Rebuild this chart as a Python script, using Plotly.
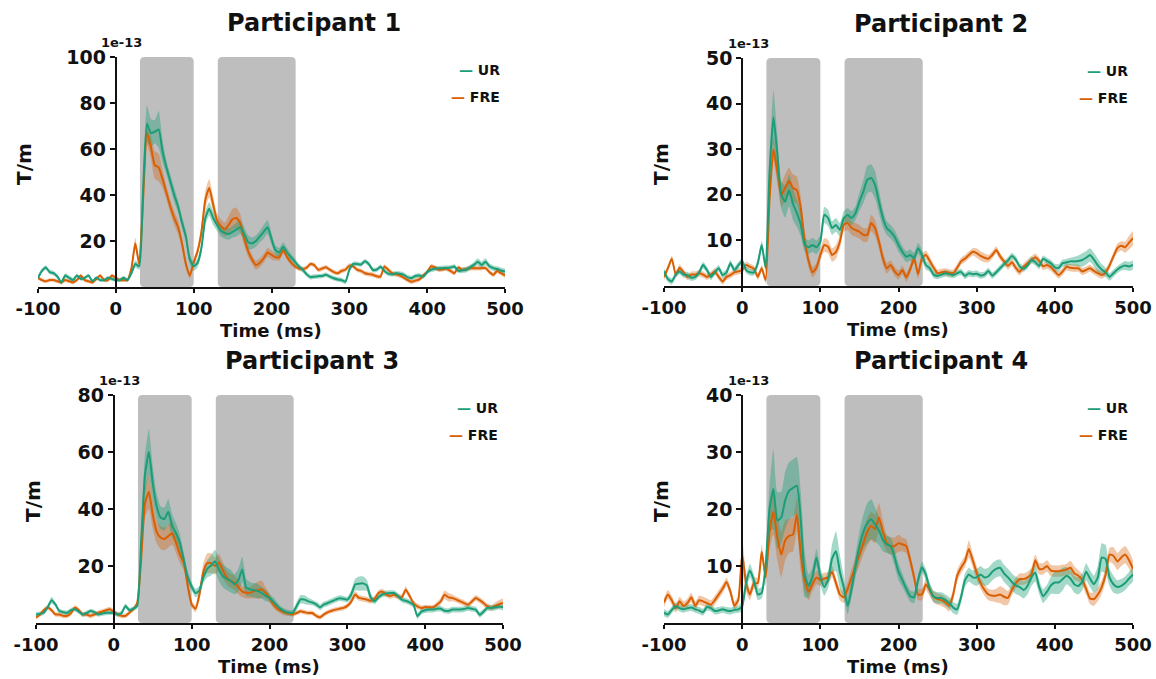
import plotly.graph_objects as go

# ---------------- data (values in units of 1e-13 T/m) ----------------
TIME_MS = list(range(-100, 505, 5))
X_TICKS = [-100, 0, 100, 200, 300, 400, 500]
X_TICK_TEXT = ["-100", "0", "100", "200", "300", "400", "500"]
SHADE_START = [31, 131]
SHADE_END = [100, 231]
TITLES = ["Participant 1", "Participant 2", "Participant 3", "Participant 4"]
Y_MAX = [100, 50, 80, 40]
Y_TICKS = [[20, 40, 60, 80, 100], [10, 20, 30, 40, 50], [20, 40, 60, 80], [10, 20, 30, 40]]
SERIES = ["UR", "FRE"]

P1_UR = [4, 7, 8.5, 6.5, 6, 4.5, 2, 5, 4, 3,
         5, 3.5, 4, 5, 2.5, 4, 3, 3, 4, 3.5,
         3, 3, 4, 3, 6, 10, 9, 42, 71, 67,
         67.5, 68.5, 59, 52, 46, 40, 35, 28, 22, 12,
         9, 10.5, 17, 30, 34, 30, 27, 24.5, 23.5, 23,
         24, 25, 26, 23, 19.5, 19, 20, 22, 24, 26,
         21, 16, 15, 17.5, 15, 13, 11, 9, 7.5, 5.6,
         4.3, 4.5, 4.7, 4.8, 5.3, 4.5, 3.8, 3.3, 3, 2.3,
         7.5, 10, 10, 9.8, 11.2, 10, 7.5, 7.5, 8.8, 7,
         5.8, 5.5, 6, 5.8, 5.3, 4.2, 3.9, 4.8, 5, 4.5,
         6.5, 7.5, 7.9, 8.1, 8.2, 8.3, 8.5, 8.9, 7, 7.3,
         7.5, 8.5, 9.6, 11, 9.6, 11, 9, 8.2, 7.8, 7.2,
         6.7]
P1_UR_SEM = [1, 1, 1, 1, 1, 1, 1, 1, 1, 1,
             0.8, 0.8, 0.8, 0.8, 0.8, 0.8, 0.8, 0.8, 0.8, 0.8,
             0.8, 0.8, 0.8, 0.8, 1, 1.5, 1.5, 4, 8, 6,
             5, 8, 5, 3, 3, 3, 2.5, 2.5, 2.5, 2,
             2, 2, 2.5, 3, 3, 3, 2.5, 2.5, 2.5, 2.5,
             2.5, 3, 3, 3, 3, 2.5, 2.5, 2.5, 3, 3,
             2.5, 2, 2, 2, 2, 1.5, 1.5, 1.2, 1.2, 1,
             1, 1, 1, 1, 1, 1, 1, 1, 1, 1,
             1, 1, 1, 1, 1, 1, 1, 1, 1, 1,
             1, 1, 1, 1, 1, 1, 1, 1, 1, 1,
             1, 1, 1, 1, 1, 1, 1, 1, 1, 1.2,
             1.2, 1.2, 1.2, 1.5, 1.5, 1.5, 1.2, 1.2, 1.2, 1.2,
             1.2]
P1_FRE = [4, 3, 2.5, 3, 3, 2.5, 2, 3, 2.5, 2,
          3, 5, 3, 2.5, 2, 3.5, 5, 3, 3, 5,
          4, 3, 3, 3, 8, 19, 10, 38, 67, 61,
          53, 52, 47, 41, 35, 30, 26, 19, 10, 5,
          10.7, 15.5, 24, 38, 43, 36, 29, 26.5, 25, 27,
          29.5, 30, 27.5, 21, 15.5, 12, 9.5, 10.5, 12.5, 15,
          14, 13, 12.9, 16, 13, 10.7, 9, 8, 7.8, 8.3,
          10, 9.5, 7.5, 8, 8.6, 7.5, 6.5, 6, 7, 7.5,
          9.3, 9, 7.5, 7, 6, 5.6, 5.3, 4.7, 4.5, 8.9,
          7.5, 6, 5.5, 5, 4, 3, 2.3, 2.8, 3.3, 5,
          6.5, 9, 8.5, 7.5, 7.7, 7.9, 7, 6, 8.5, 7.5,
          7.8, 8.2, 8.2, 8.2, 8.2, 8.2, 6.5, 5.3, 7, 6,
          5]
P1_FRE_SEM = [0.8, 0.8, 0.8, 0.8, 0.8, 0.8, 0.8, 0.8, 0.8, 0.8,
              0.8, 0.8, 0.8, 0.8, 0.8, 0.8, 0.8, 0.8, 0.8, 0.8,
              0.8, 0.8, 0.8, 0.8, 1.5, 2.5, 1.5, 4, 5, 5,
              6, 6, 4, 3, 3, 3, 3, 2.5, 2, 1.5,
              1.5, 2, 2.5, 4, 4, 3.5, 3, 3, 3, 4,
              4.5, 4.5, 4, 3, 2.5, 2, 2, 2, 2, 2,
              2, 1.5, 1.5, 1.5, 1.2, 1.2, 1, 1, 1, 1,
              1, 1, 1, 1, 1, 1, 1, 1, 1, 1,
              1, 1, 1, 1, 1, 1, 1, 1, 1, 1,
              1, 1, 1, 1, 1, 1, 1, 1, 1, 1,
              1, 1, 1, 1, 1, 1, 1, 1, 1, 1,
              1, 1, 1, 1, 1, 1, 1, 1, 1, 1,
              1]

P2_UR = [3.2, 1.5, 1, 2.5, 3.2, 2.5, 2.4, 1.8, 2, 3,
         4.6, 3.5, 2, 3, 3.9, 2.4, 3, 5, 3.5, 4.5,
         5.5, 3.5, 3, 3, 5, 9, 4, 25, 37, 29,
         20, 18.5, 21, 18, 16, 13.5, 9, 8.5, 9, 8.5,
         9.7, 15.6, 14.9, 12.7, 13.4, 12.3, 14.9, 15.6, 14.9, 16,
         18.5, 20.7, 23.3, 23.7, 22.2, 18.5, 14.9, 12.7, 11.9, 10.8,
         9, 7.5, 6.4, 6.8, 6.1, 8.3, 6.8, 4.6, 3.9, 2.5,
         2.2, 2.5, 2.8, 2.6, 2.4, 2.8, 3.1, 2.2, 2.8, 2.6,
         2.7, 2.3, 2.5, 3.3, 2.3, 3, 3.9, 4.8, 5.6, 6.6,
         5.8, 4.3, 3.8, 4.5, 5.7, 5.2, 4.4, 6, 5.5, 5,
         4.1, 4, 5, 5.2, 5.4, 5.4, 5.5, 5.7, 6.2, 6.8,
         5.8, 4.5, 3.6, 3, 2, 2.8, 3.6, 4.2, 4.5, 4.3,
         4.6]
P2_UR_SEM = [0.7, 0.7, 0.7, 0.7, 0.7, 0.7, 0.7, 0.7, 0.7, 0.7,
             0.7, 0.7, 0.7, 0.7, 0.7, 0.7, 0.7, 0.7, 0.7, 0.7,
             0.7, 0.7, 0.7, 0.7, 1, 1, 1, 3, 6, 4,
             3, 3.5, 3.5, 3.5, 3, 2.5, 1.5, 1.5, 1.5, 1.5,
             1.5, 1.8, 1.8, 1.5, 1.5, 1.5, 1.5, 1.5, 1.5, 1.5,
             2, 2.5, 3, 3, 3, 2.5, 2, 1.5, 1.5, 1.5,
             1.5, 1.2, 1.2, 1.2, 1.2, 1.2, 1.2, 1, 0.8, 0.8,
             0.7, 0.7, 0.7, 0.7, 0.7, 0.7, 0.7, 0.7, 0.7, 0.7,
             0.7, 0.7, 0.7, 0.7, 0.7, 0.7, 0.7, 0.7, 0.7, 0.7,
             0.7, 0.7, 0.7, 0.7, 0.7, 0.7, 0.7, 0.7, 0.7, 0.7,
             0.8, 0.8, 0.8, 0.8, 0.8, 1, 1.2, 1.5, 1.5, 1.5,
             1.5, 1.5, 1.2, 1, 0.8, 0.8, 0.8, 0.8, 1, 1,
             1]
P2_FRE = [2, 3.9, 6, 2.5, 4, 3, 2, 2.5, 2.5, 2.8,
          2.5, 2, 2.5, 3.2, 2, 1, 2, 2.4, 3, 3.2,
          3.5, 4.6, 4.2, 3.8, 2, 3.9, 1.3, 19, 30, 25,
          20, 21.5, 23, 21.5, 21, 17, 10, 5.5, 3, 4,
          6.8, 9, 8.6, 6.8, 7.5, 9.7, 13.4, 13.8, 12.7, 12.3,
          11.9, 11.2, 11.2, 13.8, 12.7, 9.7, 6.1, 3.9, 4.6, 3.2,
          2.4, 3.5, 1.9, 3.7, 6.1, 2.6, 6.1, 6.8, 5.5, 4,
          2.8, 3, 3.1, 2.9, 2.8, 4, 5.4, 6, 6.8, 7.5,
          7.2, 6.6, 6.2, 6, 6.8, 7.9, 6.5, 5.4, 4.4, 5.2,
          4, 3.1, 4.2, 5, 5.7, 6.3, 5.5, 4.3, 4.6, 4.1,
          3.2, 2.4, 3.2, 4.2, 4, 3.9, 3.9, 3.2, 3.5, 3.9,
          3.3, 2.8, 2.4, 3, 4.5, 6.5, 8.3, 8.8, 8.5, 9.5,
          10.5]
P2_FRE_SEM = [0.7, 0.7, 0.7, 0.7, 0.7, 0.7, 0.7, 0.7, 0.7, 0.7,
              0.7, 0.7, 0.7, 0.7, 0.7, 0.7, 0.7, 0.7, 0.7, 0.7,
              0.7, 0.7, 0.7, 0.7, 0.7, 0.7, 0.8, 2, 2.5, 2.5,
              2.5, 3, 3, 3, 3, 2.5, 2, 1.5, 1.2, 1,
              1.2, 1.5, 1.5, 1.5, 1.5, 1.5, 1.5, 1.5, 1.5, 1.5,
              1.5, 1.5, 1.5, 1.8, 1.8, 1.5, 1.5, 1.2, 1, 1,
              1, 1, 1, 1, 1, 1, 1, 1, 1, 0.8,
              0.8, 0.8, 0.8, 0.8, 0.8, 0.8, 0.8, 0.8, 0.8, 0.8,
              1, 1, 1, 0.8, 0.8, 0.8, 0.8, 0.8, 0.8, 0.8,
              0.8, 0.8, 0.8, 0.8, 0.8, 0.8, 0.8, 0.8, 0.8, 0.8,
              0.8, 0.8, 0.8, 0.8, 0.8, 0.8, 0.8, 0.8, 0.8, 0.8,
              0.8, 0.8, 0.8, 0.8, 0.8, 0.8, 1, 1, 1.2, 1.5,
              1.5]

P3_UR = [3, 3.2, 3.6, 5.5, 8, 6.5, 4.2, 3.8, 3.6, 4.5,
         4.8, 4, 3, 3.5, 4.2, 3.8, 3, 3.3, 3.6, 3.6,
         3.6, 3, 3.5, 6, 4.5, 5, 6, 28, 52, 60,
         49, 41, 37, 36.5, 39, 34, 31.5, 28, 22, 16,
         12.8, 10.5, 11.5, 16, 19, 20.2, 21.7, 18.8, 16.5, 15.5,
         14.8, 13.6, 15, 18.8, 12.5, 11.8, 11.5, 11.2, 10.6, 9.6,
         8.8, 7.5, 6, 4.8, 4, 3.6, 3.6, 6, 8.3, 8.2,
         7.6, 7.2, 6.5, 5.5, 6.5, 7, 7.6, 8.2, 8.7, 8.5,
         8.2, 10, 13.5, 13.8, 13.9, 13.2, 9, 7.6, 9, 10,
         10.4, 10.5, 10.5, 9.5, 8.2, 7.8, 7.2, 6.4, 2.4, 4,
         4.5, 4.7, 4.7, 5, 5, 4.3, 4.2, 4.7, 4.7, 4.7,
         4.9, 5.3, 5, 4.7, 2.9, 4, 5.3, 5.3, 5.5, 5.8,
         5.5]
P3_UR_SEM = [0.8, 0.8, 0.8, 0.8, 1.2, 0.8, 0.8, 0.8, 0.8, 0.8,
             0.8, 0.8, 0.8, 0.8, 0.8, 0.8, 0.8, 0.8, 0.8, 0.8,
             0.8, 0.8, 0.8, 0.8, 0.8, 0.8, 1, 4, 7, 8,
             6, 4.5, 4, 4, 4.5, 4, 3.5, 3, 2.5, 2,
             1.5, 1.5, 1.5, 2, 3, 3.5, 4, 4, 4, 4,
             4, 3.5, 4, 4.5, 3, 2.5, 2.5, 2.5, 2, 2,
             1.5, 1.5, 1.2, 1, 1, 1, 1, 1.5, 1.5, 1.5,
             1.2, 1, 1, 1, 1, 1, 1, 1, 1, 1,
             1, 1.5, 2, 2.5, 2.5, 2, 1.5, 1, 1, 1,
             1, 1, 1, 1, 1, 1, 1, 1, 1, 1,
             1, 1, 1, 1, 1, 1, 1, 1, 1, 1,
             1, 1, 1, 1, 1, 1, 1, 1, 1, 1,
             1]
P3_FRE = [1.9, 3, 4.5, 5.4, 4.5, 3, 3, 2.5, 2.5, 3.5,
          5.4, 4.5, 3, 3, 2.5, 3, 3.6, 4, 4.5, 4.8,
          4, 3, 2.5, 2.5, 3.6, 4.8, 7, 22, 42, 46,
          38, 32, 30, 29.5, 30.5, 31.5, 28, 24, 21, 13,
          6.5, 5, 10, 18, 21, 21, 20, 21.2, 18.5, 16,
          14.8, 14.2, 12.6, 11, 10.6, 10.6, 11.2, 11.5, 11.8, 10.6,
          8.8, 6.5, 5, 4.2, 3.6, 3.3, 3, 3.5, 4.1, 3.8,
          3.5, 3.5, 2.5, 2, 3, 3.8, 4.3, 4.7, 5, 5.3,
          6, 7.5, 10, 8.8, 8.5, 8.2, 7.8, 8.5, 10.5, 11,
          10, 9.5, 9.9, 9.3, 9, 11.7, 9.5, 7, 5.8, 5.3,
          5.6, 5.5, 5.5, 6.4, 7.6, 9.9, 9, 8.8, 8.2, 7.6,
          7, 6.4, 7.5, 8.8, 8, 7, 5.8, 5.3, 6, 6.6,
          7]
P3_FRE_SEM = [0.8, 0.8, 0.8, 0.8, 0.8, 0.8, 0.8, 0.8, 0.8, 0.8,
              0.8, 0.8, 0.8, 0.8, 0.8, 0.8, 0.8, 0.8, 0.8, 0.8,
              0.8, 0.8, 0.8, 0.8, 0.8, 0.8, 0.8, 3, 5, 6,
              5, 4, 4, 4, 4, 4, 3.5, 3, 2.5, 2,
              1.2, 1.2, 2, 3, 3.5, 3.5, 3, 3, 3, 2.5,
              2.5, 2.5, 2.5, 2, 2, 2, 2.5, 3, 3, 2,
              1.5, 1.2, 1, 1, 1, 0.8, 0.8, 0.8, 0.8, 0.8,
              0.8, 0.8, 0.8, 0.8, 0.8, 0.8, 0.8, 0.8, 0.8, 0.8,
              0.8, 1, 1.2, 1, 1, 1, 1, 1, 1, 1,
              1, 1, 1, 1, 1, 1.2, 1, 1, 1, 0.8,
              0.8, 0.8, 0.8, 1, 1.2, 1.5, 1.5, 1.2, 1, 1,
              1, 1, 1, 1, 1, 1, 1, 1, 1.2, 1.5,
              1.5]

P4_UR = [1.8, 1.5, 2.3, 3, 2.6, 2.4, 2.6, 2.7, 2.4, 2.2,
         1.9, 2.8, 2.6, 2.1, 2.2, 2.4, 2.2, 2.1, 2.3, 2.4,
         3, 7, 9.2, 7.5, 5, 5.3, 10, 20, 23.5, 18,
         18.5, 21.5, 23.2, 23.7, 24.1, 18, 8.5, 6.5, 8.2, 11.5,
         8.2, 6.3, 7.6, 11.3, 12.6, 9, 6.2, 3, 6, 10,
         13.5, 16, 17.5, 18.2, 17.3, 16.2, 14.6, 13.8, 13.5, 11.5,
         9, 7.5, 6, 4.7, 4.5, 7.5, 9.8, 8.5, 6, 4.6,
         4.4, 4.4, 4, 3.5, 2.7, 2.4, 4.5, 7.5, 8.5, 8,
         8, 8.5, 8, 8.2, 9, 9.5, 9.7, 8.7, 8, 7.2,
         6.6, 6.3, 5.8, 6.5, 8, 8.8, 6.3, 4.7, 5.5, 6.6,
         7.1, 7.1, 7.7, 8.3, 7.8, 6.8, 6.5, 7.2, 9, 7.8,
         6.8, 8, 11.5, 11.2, 8, 6.8, 6.3, 6.5, 7, 7.8,
         8.5]
P4_UR_SEM = [0.6, 0.6, 0.6, 0.6, 0.6, 0.6, 0.6, 0.6, 0.6, 0.6,
             0.6, 0.6, 0.6, 0.6, 0.6, 0.6, 0.6, 0.6, 0.6, 0.6,
             1, 1.2, 1.2, 1, 1, 1, 1.5, 4, 7, 5,
             4.5, 5, 5, 5, 5, 5, 4, 2, 1.5, 1.5,
             1.5, 1.5, 1.5, 2.5, 3.5, 3, 2, 1.5, 1.5, 2,
             2.5, 3, 3.5, 3.5, 3, 2.5, 2, 1.5, 1.5, 1.5,
             1.5, 1.2, 1, 1, 1, 1, 1, 1, 1, 1,
             1, 1, 1, 1, 1, 1, 1, 1.2, 1.2, 1.2,
             1.5, 1.5, 1.5, 1.5, 1.5, 1.5, 1.5, 1.5, 1.5, 1.5,
             1.5, 1.5, 1.5, 1.5, 1.5, 1.5, 1.2, 1.2, 1.2, 1.5,
             2, 2, 2, 1.5, 1.5, 1.5, 1.5, 1.5, 1.5, 1.5,
             1.5, 2, 2.5, 2.5, 1.5, 1.5, 1.2, 1.2, 1.2, 1.2,
             1.2]
P4_FRE = [3.6, 5, 4, 2.6, 3.8, 3, 3.5, 4.5, 3, 4,
          3.8, 3.5, 3.2, 4, 5, 6, 7.2, 5.5, 3, 4,
          12, 7, 5, 7, 7, 12.5, 8, 16, 19.5, 15,
          12, 14.5, 15.3, 15.5, 19, 12, 7.5, 5.5, 6.8, 8,
          7.5, 7.8, 8, 9, 7, 5, 4.5, 6, 8, 10,
          12, 14, 16, 17, 16.5, 18.5, 16, 14, 13.5, 13.5,
          14, 13.8, 13.5, 11, 8, 5, 5, 6.8, 5.7, 4.6,
          4.2, 4, 3.6, 3, 5, 8.3, 9.7, 10.8, 13, 11,
          8.8, 7, 5.8, 5, 4.8, 4.8, 5, 4.6, 4.4, 5.8,
          7, 7.7, 7.7, 8, 8.5, 11, 9.5, 9.5, 10, 9.2,
          9.1, 9.1, 9.2, 9.4, 9.7, 8.7, 8.3, 7.6, 6, 4.3,
          4.2, 5, 6.3, 8.5, 12, 11.8, 10.8, 11.5, 12, 11,
          9.5]
P4_FRE_SEM = [0.8, 0.8, 0.8, 0.8, 0.8, 0.8, 0.8, 0.8, 0.8, 0.8,
              0.8, 0.8, 0.8, 0.8, 0.8, 0.8, 0.8, 0.8, 0.8, 0.8,
              3, 1.5, 1, 1, 1, 1.2, 1.5, 3, 4, 4,
              4, 3.5, 3, 3, 3, 3, 2, 1.5, 1.2, 1.2,
              1, 1, 1, 1, 1, 1, 1, 1.2, 1.5, 1.5,
              2, 2, 2.5, 2.5, 2.5, 2.5, 2, 1.5, 1.5, 1.5,
              1.5, 1.2, 1.2, 1, 1, 1, 1, 1, 1, 1,
              1, 1, 1, 1, 1, 1, 1, 1, 1.5, 1.2,
              1.2, 1, 1, 1, 1, 1.2, 1.5, 1.5, 1.2, 1,
              1, 1, 1, 1, 1.2, 1, 1, 1, 1, 1,
              1, 1, 1, 1, 1.2, 1.2, 1, 1, 1, 1,
              1.2, 1.2, 1.2, 1.2, 1.2, 1.5, 1.5, 1.5, 1.5, 1.5,
              1.5]

PANEL_DATA = [
    (P1_UR, P1_UR_SEM, P1_FRE, P1_FRE_SEM),
    (P2_UR, P2_UR_SEM, P2_FRE, P2_FRE_SEM),
    (P3_UR, P3_UR_SEM, P3_FRE, P3_FRE_SEM),
    (P4_UR, P4_UR_SEM, P4_FRE, P4_FRE_SEM),
]
for arrs in PANEL_DATA:
    for a in arrs:
        assert len(a) == len(TIME_MS), len(a)

# ---------------- styling / layout ----------------
W, H = 1156, 679
BOX = [(38, 505, 57, 287), (664, 1133, 58, 286), (36, 503, 395, 623), (664, 1133, 395, 623)]
GREEN = "#1b9e77"
ORANGE = "#d95f02"
GREEN_BAND = "rgba(27,158,119,0.40)"
ORANGE_BAND = "rgba(217,95,2,0.35)"
SHADE = "#bebebe"
INK = "#111111"
FONT = "DejaVu Sans"
X_MIN, X_MAX = -100, 500

fig = go.Figure()
layout = dict(width=W, height=H, margin=dict(l=0, r=0, t=0, b=0, autoexpand=False),
              paper_bgcolor="white", plot_bgcolor="rgba(0,0,0,0)",
              showlegend=False, font=dict(family=FONT, color=INK))
shapes = []
annotations = []


def px(xp):
    return xp / W


def py(yp):
    return 1 - yp / H


for i in range(4):
    n = i + 1
    xa = "x" if n == 1 else f"x{n}"
    ya = "y" if n == 1 else f"y{n}"
    l, r, t, b = BOX[i]
    xd = [px(l), px(r)]
    yd = [py(b), py(t)]
    ymax = Y_MAX[i]
    ur, ur_sem, fre, fre_sem = PANEL_DATA[i]

    bands = [(fre, fre_sem, ORANGE_BAND), (ur, ur_sem, GREEN_BAND)]
    for vals, sem, col in bands:
        upper = [v + s for v, s in zip(vals, sem)]
        lower = [max(v - s, 0.2) for v, s in zip(vals, sem)]
        fig.add_trace(go.Scatter(
            x=TIME_MS + TIME_MS[::-1], y=upper + lower[::-1],
            fill="toself", fillcolor=col, mode="lines",
            line=dict(width=0, shape="spline", smoothing=0.5),
            xaxis=xa, yaxis=ya, hoverinfo="skip", showlegend=False))
    for vals, col, name in [(fre, ORANGE, "FRE"), (ur, GREEN, "UR")]:
        fig.add_trace(go.Scatter(
            x=TIME_MS, y=vals, mode="lines", name=name,
            line=dict(color=col, width=2, shape="spline", smoothing=0.5),
            xaxis=xa, yaxis=ya, showlegend=False))

    suffix = "" if n == 1 else str(n)
    layout["xaxis" + suffix] = dict(
        domain=xd, anchor=ya, range=[X_MIN, X_MAX],
        tickmode="array", tickvals=X_TICKS, ticktext=X_TICK_TEXT,
        showline=True, linecolor=INK, linewidth=2, ticks="outside",
        ticklen=4, tickwidth=2, tickcolor=INK, showgrid=False, zeroline=False,
        automargin=False,
        tickfont=dict(family=FONT, size=18, color=INK, weight="bold"))
    ypos = xd[0] + (0 - X_MIN) / (X_MAX - X_MIN) * (xd[1] - xd[0])
    layout["yaxis" + suffix] = dict(
        domain=yd, anchor="free", position=ypos, range=[0, ymax],
        tickvals=Y_TICKS[i], showline=True, linecolor=INK, linewidth=2,
        ticks="outside", ticklen=5, tickwidth=2, tickcolor=INK,
        showgrid=False, zeroline=False, automargin=False,
        tickfont=dict(family=FONT, size=19, color=INK, weight="bold"))

    # rounded gray analysis windows
    rx = 4.5 * (X_MAX - X_MIN) / (r - l)
    ry = 4.5 * ymax / (b - t)
    for s0, s1 in zip(SHADE_START, SHADE_END):
        path = (f"M {s0 + rx},0 L {s1 - rx},0 Q {s1},0 {s1},{ry} "
                f"L {s1},{ymax - ry} Q {s1},{ymax} {s1 - rx},{ymax} "
                f"L {s0 + rx},{ymax} Q {s0},{ymax} {s0},{ymax - ry} "
                f"L {s0},{ry} Q {s0},0 {s0 + rx},0 Z")
        shapes.append(dict(type="path", path=path, xref=xa, yref=ya,
                           fillcolor=SHADE, line=dict(width=0), layer="below"))

    y0_px = l + (r - l) * (0 - X_MIN) / (X_MAX - X_MIN)
    # titles
    annotations.append(dict(text=TITLES[i], x=px((l + r) / 2 + 42), y=py(t - 34),
                            xref="paper", yref="paper", showarrow=False,
                            xanchor="center", yanchor="middle",
                            font=dict(family=FONT, size=24, color=INK, weight="bold")))
    annotations.append(dict(text="Time (ms)", x=px((l + r) / 2 - 1), y=py(min(b + 56, H)),
                            xref="paper", yref="paper", showarrow=False,
                            xanchor="center", yanchor="bottom",
                            font=dict(family=FONT, size=18, color=INK, weight="bold")))
    annotations.append(dict(text="T/m", x=px(l - 14 if i == 0 else l - 3), y=py((t + b) / 2 - 8),
                            xref="paper", yref="paper", showarrow=False, textangle=-90,
                            xanchor="center", yanchor="middle",
                            font=dict(family=FONT, size=20, color=INK, weight="bold")))
    annotations.append(dict(text="1e-13", x=px(y0_px + 6), y=py(t - 15),
                            xref="paper", yref="paper", showarrow=False,
                            xanchor="center", yanchor="middle",
                            font=dict(family=FONT, size=13, color=INK, weight="bold")))
    # legend entries
    for k, (name, col) in enumerate([("UR", GREEN), ("FRE", ORANGE)]):
        annotations.append(dict(
            text=f'<span style="color:{col}">\u2014</span> {name}',
            x=px(r - 3), y=py(t + 13 + 27 * k), xref="paper", yref="paper",
            showarrow=False, xanchor="right", yanchor="middle",
            font=dict(family=FONT, size=14, color=INK, weight="bold")))

layout["shapes"] = shapes
layout["annotations"] = annotations
fig.update_layout(**layout)
fig.write_html("out.html", config={"displayModeBar": False},
               post_script="document.body.style.margin='0px';document.body.style.padding='0px';")
